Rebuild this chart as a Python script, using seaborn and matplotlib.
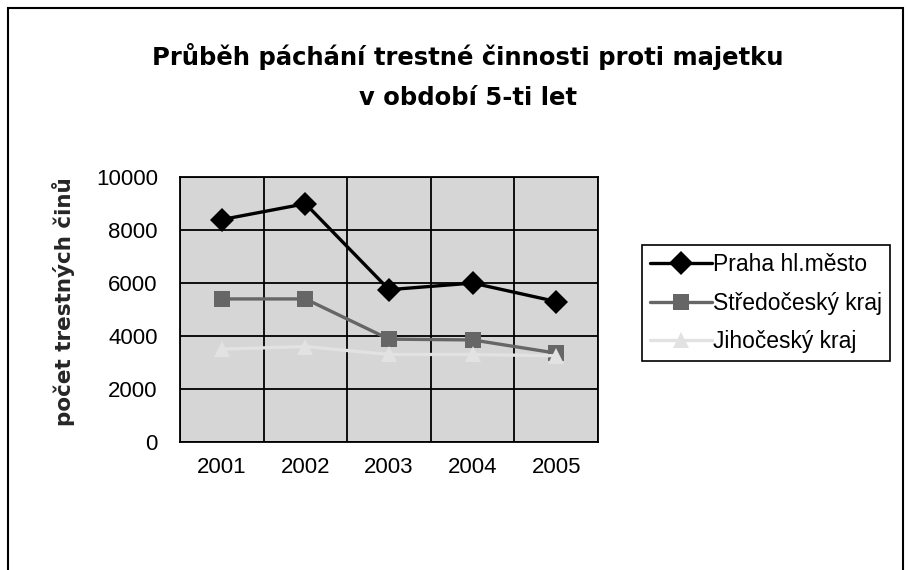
import matplotlib
matplotlib.use("Agg")
import matplotlib.pyplot as plt
from matplotlib.patches import Rectangle
import seaborn as sns
import pandas as pd

years = ["2001", "2002", "2003", "2004", "2005"]
praha = [8400, 9000, 5750, 6000, 5300]
stredocesky = [5400, 5400, 3880, 3850, 3350]
jihocesky = [3500, 3600, 3300, 3300, 3250]
series_names = ["Praha hl.město", "Středočeský kraj", "Jihočeský kraj"]
y_ticks = [0, 2000, 4000, 6000, 8000, 10000]

rows = []
for name, vals in zip(series_names, [praha, stredocesky, jihocesky]):
    for i, v in enumerate(vals):
        rows.append((name, i, v))
df = pd.DataFrame(rows, columns=["kraj", "rok", "pocet"])

sns.set_style("white")
plt.rcParams["font.family"] = ["Liberation Sans", "DejaVu Sans"]
plt.rcParams["text.color"] = "black"
plt.rcParams["xtick.color"] = "black"
plt.rcParams["ytick.color"] = "black"

fig = plt.figure(figsize=(9.09, 5.70), dpi=100)
ax = fig.add_axes([0.198, 0.225, 0.460, 0.464])
ax.set_facecolor("#d6d6d6")

palette = {series_names[0]: "black", series_names[1]: "#666666", series_names[2]: "#e2e2e2"}
markers = {series_names[0]: "D", series_names[1]: "s", series_names[2]: "^"}
sns.lineplot(data=df, x="rok", y="pocet", hue="kraj", style="kraj",
             palette=palette, markers=markers, dashes=False, linewidth=2.4,
             markersize=12, markeredgewidth=0, ax=ax, sort=False)

ax.set_xlim(-0.5, 4.5)
ax.set_ylim(0, 10000)
ax.set_yticks(y_ticks)
ax.set_yticklabels([str(t) for t in y_ticks], fontsize=16)
ax.set_xticks([i - 0.5 for i in range(6)])
ax.set_xticklabels([])
ax.set_xticks(range(5), minor=True)
ax.set_xticklabels(years, minor=True, fontsize=16)
ax.tick_params(axis="x", which="minor", length=0, pad=11)
ax.tick_params(axis="x", which="major", direction="out", length=6, width=1.2, color="black")
ax.tick_params(axis="y", direction="out", length=7, width=1.2, color="black", pad=9)
ax.grid(True, which="major", color="black", linewidth=1.3)
for s in ax.spines.values():
    s.set_color("black")
    s.set_linewidth(1.3)

ax.set_xlabel("")
ax.set_ylabel("počet trestných činů", fontsize=15.5, fontweight="bold",
              family=["DejaVu Sans"])
ax.yaxis.set_label_coords(-0.25, 0.528)

fig.text(0.515, 0.90, "Průběh páchání trestné činnosti proti majetku",
         ha="center", va="center", fontsize=17.5, fontweight="bold",
         family=["DejaVu Sans"])
fig.text(0.515, 0.828, "v období 5-ti let",
         ha="center", va="center", fontsize=17.5, fontweight="bold",
         family=["DejaVu Sans"])

leg = ax.legend(loc="upper left", bbox_to_anchor=(1.105, 0.743), fontsize=16.5,
                frameon=True, fancybox=False, edgecolor="black", framealpha=1,
                borderpad=0.35, labelspacing=0.68, handlelength=2.7, handletextpad=0.05,
                borderaxespad=0)
leg.get_frame().set_linewidth(1.2)

fig.patches.append(Rectangle((8 / 909, -0.1), 895 / 909, 1.1 - 8 / 570,
                             transform=fig.transFigure, fill=False,
                             edgecolor="black", linewidth=1.5))

fig.savefig("out.png", dpi=100)
